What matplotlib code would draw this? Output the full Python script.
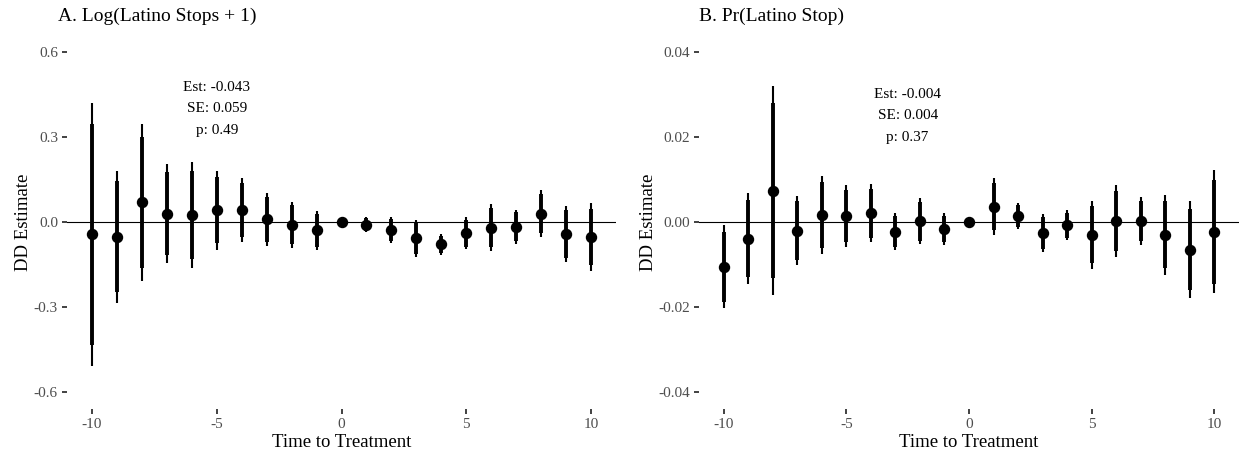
import matplotlib
matplotlib.use("Agg")
import matplotlib.pyplot as plt
import numpy as np

plt.rcParams['font.family'] = ['Liberation Serif', 'DejaVu Serif']
plt.rcParams['axes.unicode_minus'] = False

time = list(range(-10, 11))

est_a = [-0.043, -0.052, 0.069, 0.029, 0.025, 0.042, 0.042, 0.010, -0.010, -0.029, 0.0,
         -0.009, -0.029, -0.058, -0.079, -0.039, -0.020, -0.017, 0.029, -0.042, -0.053]
se_a = [0.237, 0.119, 0.141, 0.089, 0.095, 0.071, 0.058, 0.048, 0.042, 0.035, 0.0,
        0.014, 0.023, 0.033, 0.019, 0.029, 0.042, 0.031, 0.042, 0.051, 0.061]

est_b = [-0.0105, -0.0039, 0.0074, -0.0020, 0.0016, 0.0014, 0.0021, -0.0023, 0.0002, -0.0016, 0.0,
         0.0036, 0.0014, -0.0026, -0.0008, -0.0030, 0.0002, 0.0002, -0.0030, -0.0065, -0.0023]
se_b = [0.0050, 0.0055, 0.0125, 0.0042, 0.0047, 0.0037, 0.0035, 0.0022, 0.0028, 0.0019, 0.0,
        0.0034, 0.0016, 0.0023, 0.0018, 0.0041, 0.0043, 0.0029, 0.0048, 0.0058, 0.0074]

titles = ["A. Log(Latino Stops + 1)", "B. Pr(Latino Stop)"]
notes = ["Est: -0.043\nSE: 0.059\np: 0.49", "Est: -0.004\nSE: 0.004\np: 0.37"]
note_pos = [(-5, 0.40), (-2.5, 0.025)]
yticks_a = [-0.6, -0.3, 0.0, 0.3, 0.6]
yticklabels_a = ["-0.6", "-0.3", "0.0", "0.3", "0.6"]
yticks_b = [-0.04, -0.02, 0.0, 0.02, 0.04]
yticklabels_b = ["-0.04", "-0.02", "0.00", "0.02", "0.04"]
xticks = [-10, -5, 0, 5, 10]
xticklabels = ["-10", "-5", "0", "5", "10"]

W, H = 1239, 454
fig = plt.figure(figsize=(W / 100, H / 100), dpi=100)

axA = fig.add_axes([67 / W, 45 / H, (616 - 67) / W, 374 / H])
axB = fig.add_axes([699 / W, 45 / H, (1239 - 699) / W, 374 / H])

panels = [
    (axA, est_a, se_a, yticks_a, yticklabels_a, 0.66),
    (axB, est_b, se_b, yticks_b, yticklabels_b, 0.044),
]

for i, (ax, est, se, yt, ytl, lim) in enumerate(panels):
    est = np.array(est)
    se = np.array(se)
    t = np.array(time)
    ax.axhline(0, color='black', lw=0.8, zorder=1)
    ax.vlines(t, est - 1.96 * se, est + 1.96 * se, color='black', lw=1.5, zorder=2)
    ax.vlines(t, est - 1.645 * se, est + 1.645 * se, color='black', lw=2.8, zorder=2)
    ax.plot(t, est, 'o', color='black', ms=7.2, zorder=3)
    ax.set_xlim(-11, 11)
    ax.set_ylim(-lim, lim)
    ax.set_xticks(xticks)
    ax.set_xticklabels(xticklabels)
    ax.set_yticks(yt)
    ax.set_yticklabels(ytl)
    for s in ax.spines.values():
        s.set_visible(False)
    ax.tick_params(axis='both', colors='#333333', length=3.5, width=1.3,
                   labelsize=11, labelcolor='#4D4D4D', pad=3)
    ax.set_xlabel("Time to Treatment", fontsize=13.5, labelpad=2)
    ax.set_ylabel("DD Estimate", fontsize=13.5, labelpad=1)
    ax.text(note_pos[i][0], note_pos[i][1], notes[i], ha='center', va='center',
            fontsize=11, linespacing=1.85)

fig.text(58 / W, 1 - 16 / H, titles[0], fontsize=14, ha='left', va='center')
fig.text(699 / W, 1 - 16 / H, titles[1], fontsize=14, ha='left', va='center')

fig.savefig("out.png", dpi=100)
